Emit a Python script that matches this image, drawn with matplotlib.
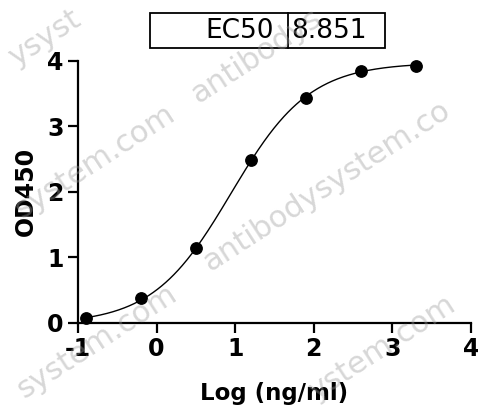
import numpy as np
import matplotlib
matplotlib.use("Agg")
import matplotlib.pyplot as plt
from matplotlib.patches import Rectangle
from matplotlib.lines import Line2D
from matplotlib.font_manager import FontProperties

# ---- data ----
log_conc = [-0.893, -0.194, 0.505, 1.204, 1.903, 2.602, 3.301]
od450 = [0.07, 0.38, 1.14, 2.48, 3.43, 3.84, 3.92]

# 4PL fit parameters (curve)
fit_bottom = -0.02
fit_top = 3.97
ec50 = 8.851
fit_hill = 0.87

x_ticks = [-1, 0, 1, 2, 3, 4]
y_ticks = [0, 1, 2, 3, 4]
x_label = "Log (ng/ml)"
y_label = "OD450"
table_label = "EC50"
table_value = "8.851"
watermark = "antibodysystem.com"

W, H = 478, 411
fig = plt.figure(figsize=(W / 100, H / 100), dpi=100)
fig.patch.set_facecolor("white")

def fx(px):
    return px / W

def fy(py):
    return 1 - py / H

ax_l, ax_r, ax_t, ax_b = 78, 471, 60.7, 322.7
ax = fig.add_axes([fx(ax_l), fy(ax_b), (ax_r - ax_l) / W, (ax_b - ax_t) / H])
ax.patch.set_visible(False)

# fitted curve
xc = np.linspace(min(log_conc), max(log_conc), 400)
yc = fit_bottom + (fit_top - fit_bottom) / (1 + 10 ** ((np.log10(ec50) - xc) * fit_hill))
ax.plot(xc, yc, color="black", lw=1.0, zorder=3, clip_on=False)
ax.plot(log_conc, od450, "o", color="black", ms=8.2, zorder=4, clip_on=False)

ax.set_xlim(-1, 4)
ax.set_ylim(0, 4)
ax.set_xticks(x_ticks)
ax.set_yticks(y_ticks)
ax.set_xticklabels([str(t) for t in x_ticks])
ax.set_yticklabels([str(t) for t in y_ticks])
for s in ["top", "right"]:
    ax.spines[s].set_visible(False)
for s in ["left", "bottom"]:
    ax.spines[s].set_linewidth(1.6)
ax.tick_params(axis="both", direction="out", length=7.5, width=1.6,
               labelsize=17, pad=3, colors="black")
for lab in ax.get_xticklabels() + ax.get_yticklabels():
    lab.set_fontweight("bold")

ax.set_xlabel(x_label, fontsize=16.5, fontweight="bold")
ax.set_ylabel(y_label, fontsize=17, fontweight="bold")
ax.xaxis.set_label_coords(0.5, (ax_b - 382) / (ax_b - ax_t))
ax.xaxis.label.set_va("top")
ax.yaxis.set_label_coords((38 - ax_l) / (ax_r - ax_l), 0.5)

# EC50 table
bx0, bx1, by0, by1, bdiv = 150, 385, 13.3, 48.3, 287.7
fig.add_artist(Rectangle((fx(bx0), fy(by1)), (bx1 - bx0) / W, (by1 - by0) / H,
                         transform=fig.transFigure, fill=False, lw=1.3,
                         edgecolor="black"))
fig.add_artist(Line2D([fx(bdiv), fx(bdiv)], [fy(by0), fy(by1)],
                      transform=fig.transFigure, color="black", lw=1.3))
ymid = fy((by0 + by1) / 2)
fig.text(fx(274), ymid, table_label, ha="right", va="center", fontsize=19)
fig.text(fx(291.5), ymid, table_value, ha="left", va="center", fontsize=19)

# watermarks: only the part of each repeat that lies inside the picture
wm_starts = [(-81, 130), (198, 104), (-90, 292), (210, 272), (-88, 472), (190, 482)]
wm_angle = 33
wm_size = 22
renderer = fig.canvas.get_renderer()
prop = FontProperties(size=wm_size)
th = np.deg2rad(wm_angle)
c, s_ = np.cos(th), np.sin(th)

def advance(txt):
    if not txt:
        return 0.0
    w, h, d = renderer.get_text_width_height_descent(txt, prop, ismath=False)
    return w

def fits(X0, Y0, sub):
    w, h, d = renderer.get_text_width_height_descent(sub, prop, ismath=False)
    for (u, v) in [(0, -d), (w, -d), (w, h - d), (0, h - d)]:
        X = X0 + u * c - v * s_
        Y = Y0 + u * s_ + v * c
        if X < 1 or X > W - 1 or Y < 1 or Y > H - 1:
            return False
    return True

n = len(watermark)
for (px, py) in wm_starts:
    X0, Y0 = px, H - py
    best = None
    for i in range(n):
        off = advance(watermark[:i])
        Xi, Yi = X0 + off * c, Y0 + off * s_
        for j in range(n, i, -1):
            if best is not None and j - i <= best[1] - best[0]:
                break
            if fits(Xi, Yi, watermark[i:j]):
                best = (i, j, Xi, Yi)
                break
    if best is None:
        continue
    i, j, Xi, Yi = best
    fig.text(Xi / W, Yi / H, watermark[i:j], fontsize=wm_size, color="#9a9a9a",
             alpha=0.4, rotation=wm_angle, rotation_mode="anchor", ha="left",
             va="baseline", zorder=10)

fig.savefig("out.png", dpi=100, facecolor="white")
